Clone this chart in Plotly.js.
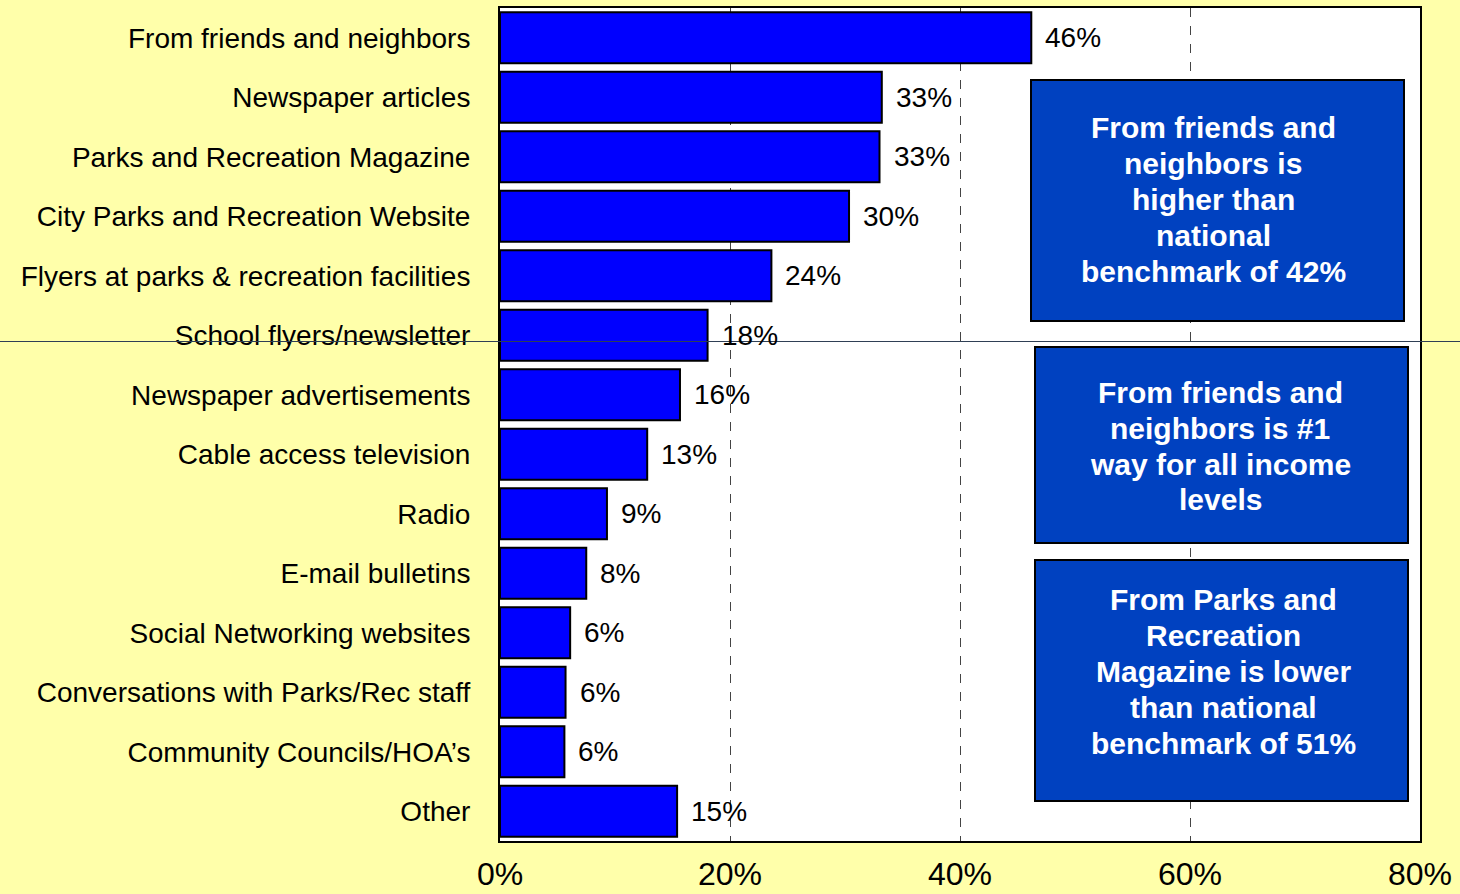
<!DOCTYPE html>
<html><head><meta charset="utf-8">
<script src="https://cdn.plot.ly/plotly-3.0.1.min.js"></script>
<style>html,body{margin:0;padding:0;background:#FFFFAA;}</style>
</head><body><div id="chart" style="width:1460px;height:894px;"></div>
<script>
const categories = ["From friends and neighbors","Newspaper articles","Parks and Recreation Magazine","City Parks and Recreation Website","Flyers at parks & recreation facilities","School flyers/newsletter","Newspaper advertisements","Cable access television","Radio","E-mail bulletins","Social Networking websites","Conversations with Parks/Rec staff","Community Councils/HOA’s","Other"];
const values = [46.2, 33.2, 33.0, 30.35, 23.6, 18.05, 15.65, 12.8, 9.3, 7.5, 6.1, 5.7, 5.6, 15.4];
const valueLabels = ["46%","33%","33%","30%","24%","18%","16%","13%","9%","8%","6%","6%","6%","15%"];
const tickVals = [0, 20, 40, 60, 80];
const tickText = ["0%","20%","40%","60%","80%"];
const boxTexts = [
  ["From friends and","neighbors is","higher than","national","benchmark of 42%"],
  ["From friends and","neighbors is #1","way for all income","levels"],
  ["From Parks and","Recreation","Magazine is lower","than national","benchmark of 51%"]
];

const W = 1460, H = 894, mL = 500, mR = 40, mT = 8, mB = 53;
const pw = W - mL - mR, ph = H - mT - mB;
const px = x => (x - mL) / pw;
const py = y => (H - mB - y) / ph;

// boxes in pixel geometry: [x0,y0,x1,y1, firstLineY, centerX]
const boxes = [
  [1031, 80, 1404, 321, 127, 1213],
  [1035, 347, 1408, 543, 392, 1220],
  [1035, 560, 1408, 801, 599, 1223]
];
const lineStep = 36;

const shapes = [];
const annotations = [];

values.forEach((v, i) => {
  annotations.push({x: v, y: categories[i], xref: 'x', yref: 'y', text: valueLabels[i],
    showarrow: false, xanchor: 'left', xshift: 12,
    font: {family: 'Liberation Sans, Arial, sans-serif', size: 28, color: '#000'}});
});

boxes.forEach((b, k) => {
  shapes.push({type: 'rect', xref: 'paper', yref: 'paper', x0: px(b[0]), x1: px(b[2]), y0: py(b[3]), y1: py(b[1]),
    fillcolor: '#0041C0', line: {color: '#000', width: 2}, layer: 'above'});
  boxTexts[k].forEach((t, j) => {
    annotations.push({xref: 'paper', yref: 'paper', x: px(b[5]), y: py(b[4] + j * lineStep), text: t,
      showarrow: false, xanchor: 'center', yanchor: 'middle',
      font: {family: 'Liberation Sans, Arial, sans-serif', size: 30, color: '#fff', weight: 'bold'}});
  });
});

shapes.push({type: 'line', xref: 'paper', yref: 'paper', x0: px(0), x1: px(W), y0: py(341.5), y1: py(341.5),
  line: {color: '#2F3F55', width: 1}, layer: 'above'});

const data = [{
  type: 'bar', orientation: 'h', x: values, y: categories,
  marker: {color: '#0000FF', line: {color: '#000', width: 2}},
  hoverinfo: 'skip'
}];

const layout = {
  width: W, height: H,
  margin: {l: mL, r: mR, t: mT, b: mB, pad: 0},
  paper_bgcolor: '#FFFFAA', plot_bgcolor: '#FFFFFF',
  showlegend: false, bargap: 0.14,
  font: {family: 'Liberation Sans, Arial, sans-serif', color: '#000'},
  xaxis: {range: [0, 80], tickvals: tickVals, ticktext: tickText, showgrid: true,
    gridcolor: '#444', griddash: 'dash', gridwidth: 1, zeroline: false,
    showline: true, linecolor: '#000', linewidth: 2, mirror: true, ticks: '',
    ticklabelstandoff: 4, tickfont: {size: 32, color: '#000'}, fixedrange: true},
  yaxis: {type: 'category', range: [13.5, -0.5], showgrid: false, zeroline: false,
    showline: true, linecolor: '#000', linewidth: 2, mirror: true, ticks: '',
    ticklabelstandoff: 22, tickfont: {size: 28, color: '#000'}, fixedrange: true},
  shapes: shapes, annotations: annotations
};

Plotly.newPlot('chart', data, layout, {displayModeBar: false, staticPlot: true});
</script></body></html>
